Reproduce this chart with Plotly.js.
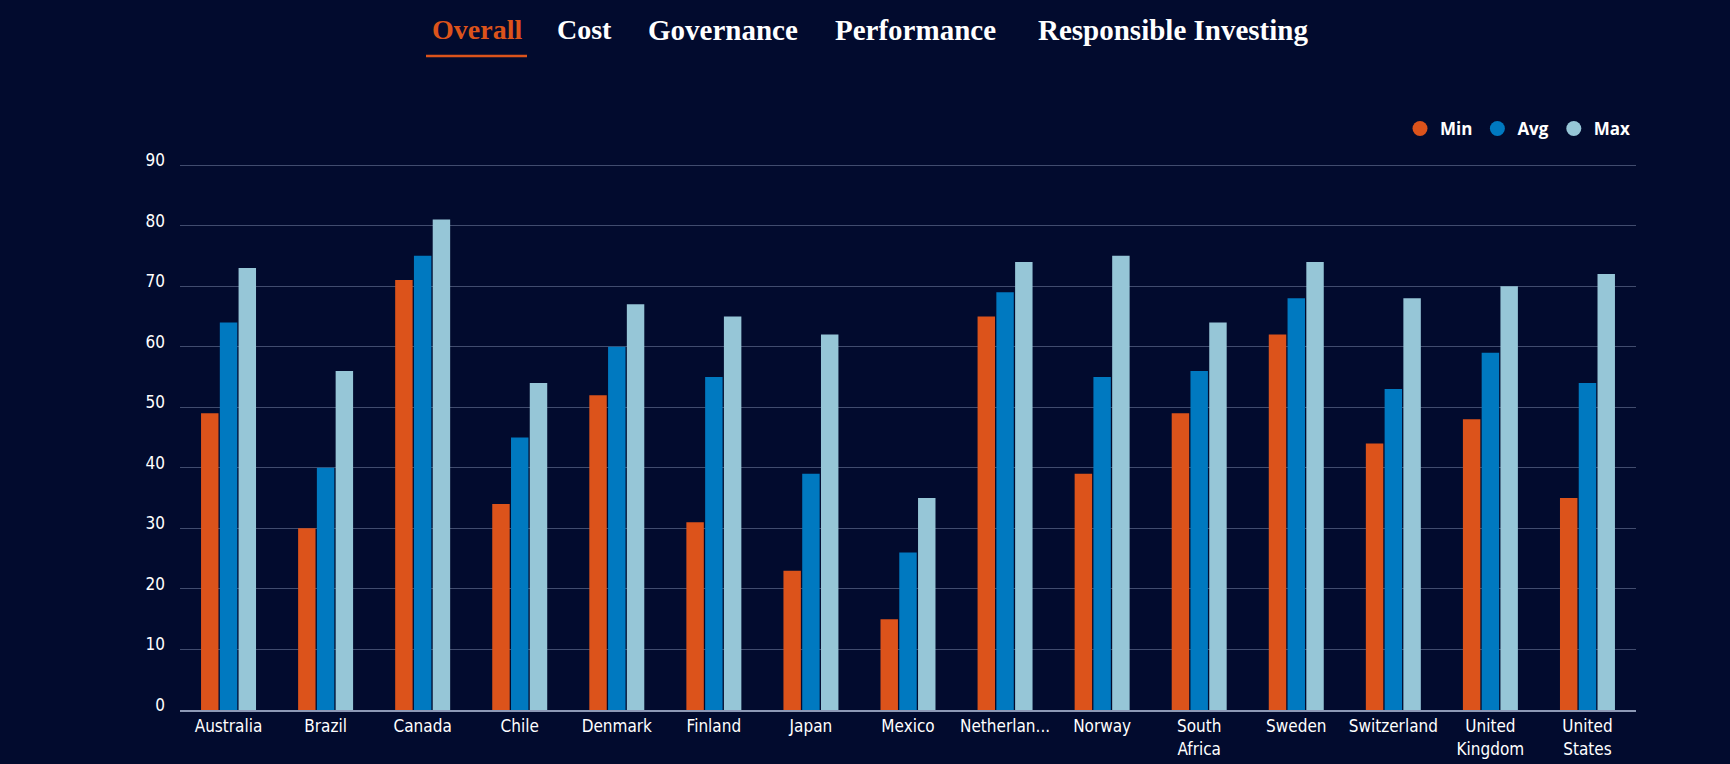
<!DOCTYPE html>
<html>
<head>
<meta charset="utf-8">
<script src="https://cdn.plot.ly/plotly-3.0.1.min.js"></script>
<style>
  html, body { margin: 0; padding: 0; background: #020b2e; }
  #chart { width: 1730px; height: 764px; }
</style>
</head>
<body>
<div id="chart"></div>
<script>
// ---- data ----
const categories = ["Australia","Brazil","Canada","Chile","Denmark","Finland","Japan","Mexico","Netherlands","Norway","South Africa","Sweden","Switzerland","United Kingdom","United States"];
const tickLabels = ["Australia","Brazil","Canada","Chile","Denmark","Finland","Japan","Mexico","Netherlan...","Norway","South<br>Africa","Sweden","Switzerland","United<br>Kingdom","United<br>States"];
const minValues = [49, 30, 71, 34, 52, 31, 23, 15, 65, 39, 49, 62, 44, 48, 35];
const avgValues = [64, 40, 75, 45, 60, 55, 39, 26, 69, 55, 56, 68, 53, 59, 54];
const maxValues = [73, 56, 81, 54, 67, 65, 62, 35, 74, 75, 64, 74, 68, 70, 72];
const seriesNames = ["Min", "Avg", "Max"];
const tabLabels = ["Overall", "Cost", "Governance", "Performance", "Responsible Investing"];
const yTicks = [0, 10, 20, 30, 40, 50, 60, 70, 80, 90];

// ---- styles ----
const colors = ["#dc531b", "#0079c0", "#96c6d7"];
const bg = "#020b2e";
const W = 1730, H = 764;
const M = {l: 180, r: 94, t: 162, b: 54};
const PW = W - M.l - M.r, PH = H - M.t - M.b;
const px2x = p => (p - M.l) / PW;
const py2y = p => (H - M.b - p) / PH;

const seriesValues = [minValues, avgValues, maxValues];
const traces = [];
seriesValues.forEach((vals, i) => {
  traces.push({
    type: "bar", x: categories, y: vals, name: seriesNames[i],
    marker: {color: colors[i]}, showlegend: false, hoverinfo: "x+y+name"
  });
});
seriesNames.forEach((n, i) => {
  traces.push({
    type: "scatter", mode: "markers", x: [null], y: [null], name: n,
    marker: {color: colors[i], size: 15, symbol: "circle"}, hoverinfo: "skip"
  });
});

const tabCenters = [476.5, 584, 722.5, 915, 1173];
const tabSizes = [28, 28, 29, 29, 29];
const annotations = tabLabels.map((t, i) => ({
  text: "<b>" + t + "</b>", xref: "paper", yref: "paper",
  x: px2x(tabCenters[i]), y: py2y(30), xanchor: "center", yanchor: "middle",
  showarrow: false,
  font: {family: "Liberation Serif, serif", size: tabSizes[i], color: i === 0 ? "#dc531b" : "#ffffff"}
}));

const shapes = [{
  type: "line", xref: "paper", yref: "paper",
  x0: px2x(426), x1: px2x(527), y0: py2y(56), y1: py2y(56),
  line: {color: "#dc531b", width: 2.5}
}];

const layout = {
  width: W, height: H,
  margin: M,
  paper_bgcolor: bg, plot_bgcolor: bg,
  barmode: "group", bargap: 0.42, bargroupgap: 0.07,
  font: {family: "DejaVu Sans Condensed, sans-serif", color: "#ffffff", size: 17},
  xaxis: {
    type: "category", tickvals: categories, ticktext: tickLabels,
    showgrid: false, zeroline: false, showline: true, linecolor: "#8d99b6", linewidth: 2,
    ticks: "", tickfont: {family: "DejaVu Sans Condensed, sans-serif", size: 17, color: "#ffffff"},
    fixedrange: true
  },
  yaxis: {
    range: [0, 90.5], tickvals: yTicks, showgrid: true, gridcolor: "#414c6e", gridwidth: 1,
    zeroline: false, showline: false, ticks: "",
    ticklabelposition: "outside", ticklabelshift: -5, ticklabelstandoff: 14,
    tickfont: {family: "DejaVu Sans Condensed, sans-serif", size: 17, color: "#ffffff"},
    fixedrange: true
  },
  legend: {
    orientation: "h", x: 1, xanchor: "right", y: py2y(129), yanchor: "middle",
    font: {family: "Open Sans, sans-serif", size: 17, color: "#ffffff", weight: 700},
    bgcolor: "rgba(0,0,0,0)", itemwidth: 30
  },
  annotations: annotations,
  shapes: shapes,
  showlegend: true
};

Plotly.newPlot("chart", traces, layout, {displayModeBar: false, staticPlot: true});
</script>
</body>
</html>
